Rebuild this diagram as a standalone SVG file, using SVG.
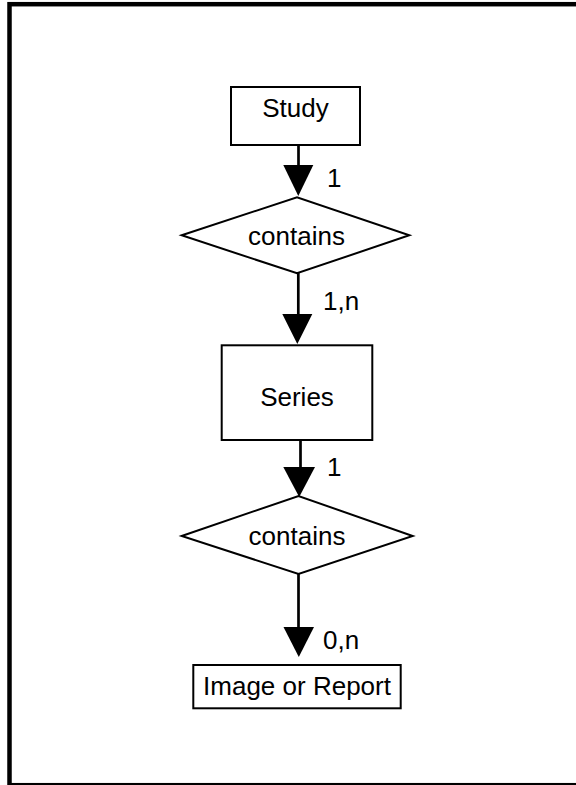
<svg xmlns="http://www.w3.org/2000/svg" width="576" height="785" viewBox="0 0 576 785">
<style>
.box{fill:#fff;stroke:#000;stroke-width:2}
.lbl{font-family:"Liberation Sans",Arial,sans-serif;font-size:26px;fill:#000}
.c{text-anchor:middle}
.ln{stroke:#000;stroke-width:2.7;fill:none}
.ah{fill:#000;stroke:none}
</style>
<rect x="0" y="0" width="576" height="785" fill="#fff"/>
<rect x="9.5" y="4.2" width="572" height="781" fill="none" stroke="#000" stroke-width="4.5"/>
<g id="connectors">
<line class="ln" x1="298.5" y1="145" x2="298.5" y2="170"/>
<polygon class="ah" points="283.3,165 313.3,165 298.3,196"/>
<text class="lbl" x="327" y="187">1</text>
<line class="ln" x1="298.3" y1="273" x2="298.3" y2="318"/>
<polygon class="ah" points="282.3,314 312.3,314 297.3,344"/>
<text class="lbl" x="323" y="310">1,n</text>
<line class="ln" x1="300.5" y1="440" x2="300.5" y2="470"/>
<polygon class="ah" points="283.3,467 315,467 299.2,497"/>
<text class="lbl" x="327" y="476">1</text>
<line class="ln" x1="298.5" y1="574" x2="298.5" y2="630"/>
<polygon class="ah" points="283.5,627 314,627 298.8,657"/>
<text class="lbl" x="323" y="649">0,n</text>
</g>
<g id="study">
<rect class="box" x="231" y="87" width="129" height="58"/>
<text class="lbl c" x="295.5" y="117">Study</text>
</g>
<g id="contains1">
<polygon class="box" points="181.7,235.3 297,197.3 409.3,235.3 297,273.3"/>
<text class="lbl c" x="296.5" y="245">contains</text>
</g>
<g id="series">
<rect class="box" x="221.7" y="345.3" width="150.6" height="94.7"/>
<text class="lbl c" x="297" y="406">Series</text>
</g>
<g id="contains2">
<polygon class="box" points="181.7,536 298.5,496 412.7,536 298.5,574"/>
<text class="lbl c" x="297" y="545">contains</text>
</g>
<g id="image">
<rect class="box" x="193.3" y="665" width="207.4" height="43.3"/>
<text class="lbl c" x="297" y="695">Image or Report</text>
</g>
</svg>
